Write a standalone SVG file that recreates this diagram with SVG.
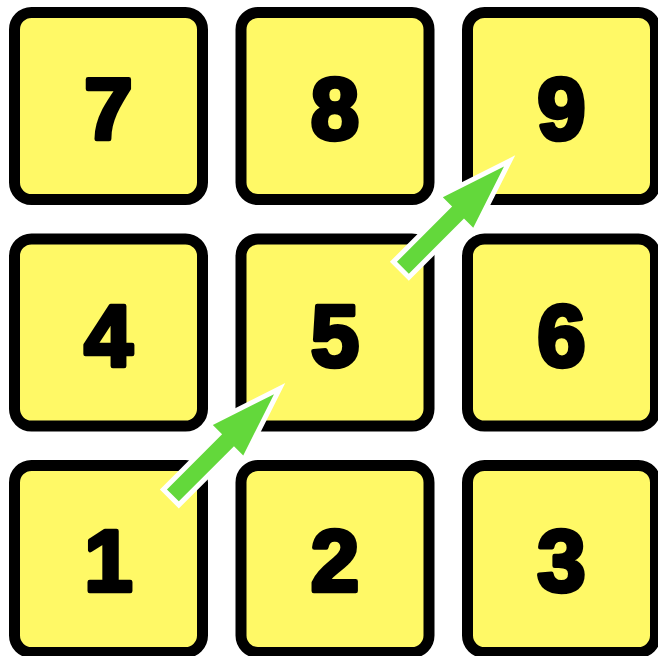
<svg xmlns="http://www.w3.org/2000/svg" width="658" height="656" viewBox="0 0 658 656">
<style>
.box{fill:#FFF966;stroke:#000;stroke-width:11}
.num{font-family:"Liberation Sans",Arial,sans-serif;font-weight:bold;font-size:87px;text-anchor:middle;fill:#000;stroke:#000;stroke-width:4.5;stroke-linejoin:round}
.arrow{fill:#63D83B;stroke:#fff;stroke-width:10;stroke-linejoin:miter;stroke-miterlimit:10;paint-order:stroke}
</style>
<defs>
<polygon id="arr" points="-143,-8.4 -65,-8.4 -65,-21.5 0,0 -65,21.5 -65,8.4 -143,8.4"/>
</defs>
<rect width="658" height="656" fill="#fff"/>
<g id="node7"><rect class="box" x="14.5" y="12.5" width="188" height="187" rx="17"/><text class="num" x="108.5" y="139">7</text></g>
<g id="node8"><rect class="box" x="241" y="12.5" width="188" height="187" rx="17"/><text class="num" x="335" y="139">8</text></g>
<g id="node9"><rect class="box" x="467.5" y="12.5" width="188" height="187" rx="17"/><text class="num" x="561.5" y="139">9</text></g>
<g id="node4"><rect class="box" x="14.5" y="239" width="188" height="187" rx="17"/><text class="num" x="108.5" y="365.5">4</text></g>
<g id="node5"><rect class="box" x="241" y="239" width="188" height="187" rx="17"/><text class="num" x="335" y="365.5">5</text></g>
<g id="node6"><rect class="box" x="467.5" y="239" width="188" height="187" rx="17"/><text class="num" x="561.5" y="365.5">6</text></g>
<g id="node1"><rect class="box" x="14.5" y="465.5" width="188" height="187" rx="17"/><text class="num" x="108.5" y="591">1</text></g>
<g id="node2"><rect class="box" x="241" y="465.5" width="188" height="187" rx="17"/><text class="num" x="335" y="591">2</text></g>
<g id="node3"><rect class="box" x="467.5" y="465.5" width="188" height="187" rx="17"/><text class="num" x="561.5" y="591">3</text></g>
<g id="connectors">
<use href="#arr" class="arrow" transform="translate(274,394.3) rotate(-45)"/>
<use href="#arr" class="arrow" transform="translate(504,166.6) rotate(-45)"/>
</g>
</svg>
